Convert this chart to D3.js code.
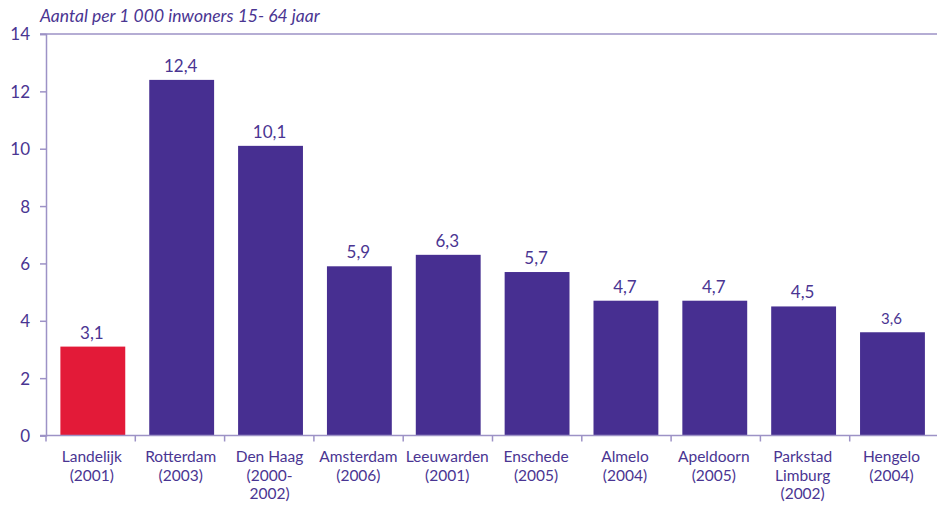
<!DOCTYPE html>
<html>
<head>
<script src="https://d3js.org/d3.v7.min.js"></script>
<style>
body { margin: 0; background: #fff; }
text { font-family: Lato, "Open Sans", sans-serif; fill: #4a3592; }
</style>
</head>
<body>
<svg id="chart" width="937" height="505"></svg>
<script>
// data
var categories = ["Landelijk (2001)", "Rotterdam (2003)", "Den Haag (2000-2002)", "Amsterdam (2006)",
  "Leeuwarden (2001)", "Enschede (2005)", "Almelo (2004)", "Apeldoorn (2005)",
  "Parkstad Limburg (2002)", "Hengelo (2004)"];
var labelLines = [["Landelijk", "(2001)"], ["Rotterdam", "(2003)"], ["Den Haag", "(2000-", "2002)"],
  ["Amsterdam", "(2006)"], ["Leeuwarden", "(2001)"], ["Enschede", "(2005)"], ["Almelo", "(2004)"],
  ["Apeldoorn", "(2005)"], ["Parkstad", "Limburg", "(2002)"], ["Hengelo", "(2004)"]];
var values = [3.1, 12.4, 10.1, 5.9, 6.3, 5.7, 4.7, 4.7, 4.5, 3.6];
var yTicks = [0, 2, 4, 6, 8, 10, 12, 14];

var svg = d3.select("#chart");
var axisColor = "#9d92c6";

// bars scale and the separator tick scale differ slightly in the original
var x = d3.scaleBand().domain(categories).range([48.4, 936.9]).paddingInner(0.27).paddingOuter(0.135);
var xSep = d3.scaleBand().domain(categories).range([46, 939]);
var y = d3.scaleLinear().domain([0, 14]).range([435.5, 34]);
function cx(i) { return x(categories[i]) + x.bandwidth() / 2; }

// title
svg.append("text")
  .attr("x", 40).attr("y", 22)
  .attr("font-size", "17.5px")
  .attr("font-style", "italic")
  .text("Aantal per 1 000 inwoners 15- 64 jaar");

// top line at 14
svg.append("line")
  .attr("x1", 40).attr("x2", 937)
  .attr("y1", y(14)).attr("y2", y(14))
  .attr("stroke", axisColor).attr("stroke-width", 1.5);

// bars
svg.selectAll(".bar").data(values).enter().append("rect")
  .attr("class", "bar")
  .attr("x", function(d, i) { return x(categories[i]); })
  .attr("width", x.bandwidth())
  .attr("y", function(d) { return y(d); })
  .attr("height", function(d) { return y(0) - y(d); })
  .attr("fill", function(d, i) { return i === 0 ? "#e31a38" : "#472f91"; });

// value labels
svg.selectAll(".val").data(values).enter().append("text")
  .attr("class", "val")
  .attr("x", function(d, i) { return cx(i) - 1; })
  .attr("y", function(d) { return y(d) - 8; })
  .attr("text-anchor", "middle")
  .attr("font-size", function(d, i) { return i === 9 ? "15px" : "17px"; })
  .text(function(d) { return String(d).replace(".", ","); });

// y axis
var yAxis = d3.axisLeft(y).tickValues(yTicks).tickSize(6).tickPadding(10);
var gy = svg.append("g").attr("transform", "translate(46,0)").call(yAxis);
gy.select(".domain").attr("stroke", axisColor).attr("stroke-width", 1.5);
gy.selectAll(".tick line").attr("stroke", axisColor).attr("stroke-width", 1.5);
gy.selectAll(".tick text").attr("font-size", "17px").attr("font-family", "Lato, sans-serif").attr("fill", "#4a3592").attr("dy", "0.35em");

// x axis line
svg.append("line")
  .attr("x1", 40).attr("x2", 937)
  .attr("y1", y(0)).attr("y2", y(0))
  .attr("stroke", axisColor).attr("stroke-width", 1.5);

// x separator ticks
svg.selectAll(".xtick").data(categories).enter().append("line")
  .attr("x1", function(d) { return xSep(d); }).attr("x2", function(d) { return xSep(d); })
  .attr("y1", y(0)).attr("y2", y(0) + 6)
  .attr("stroke", axisColor).attr("stroke-width", 1.5);

// x labels
var xl = svg.selectAll(".xlab").data(labelLines).enter().append("text")
  .attr("class", "xlab")
  .attr("text-anchor", "middle")
  .attr("font-size", "15.5px")
  .attr("x", function(d, i) { return cx(i) - 1; })
  .attr("y", 462);
xl.selectAll("tspan").data(function(d) { return d; }).enter().append("tspan")
  .attr("x", function() { return d3.select(this.parentNode).attr("x"); })
  .attr("dy", function(d, j) { return j === 0 ? 0 : 18.5; })
  .text(function(d) { return d; });
</script>
</body>
</html>
